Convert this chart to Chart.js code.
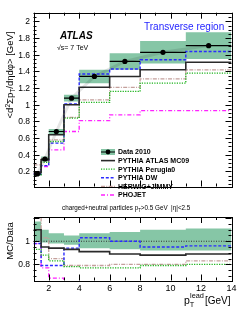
<!DOCTYPE html>
<html>
<head>
<meta charset="utf-8">
<script src="https://cdn.jsdelivr.net/npm/chart.js@4.4.1/dist/chart.umd.min.js"></script>
<style>
  html, body { margin: 0; padding: 0; background: #fff; }
  #wrap { position: relative; width: 240px; height: 311px; overflow: hidden; }
  .panel { position: absolute; left: 0; width: 240px; }
</style>
</head>
<body>
<div id="wrap">
  <div class="panel" style="top:0;height:222px"><canvas id="topChart"></canvas></div>
  <div class="panel" style="top:212px;height:99px"><canvas id="ratioChart"></canvas></div>
</div>
<script>
// bins in leading track pT [GeV]
const binEdges = [1, 1.5, 2, 3, 4, 6, 8, 11, 14];

// top panel: <d2 sum pT / deta dphi> [GeV]
const data2010   = [0.17, 0.35, 0.68, 1.08, 1.34, 1.52, 1.63, 1.71];
const data2010Sys = [0.02, 0.03, 0.03, 0.04, 0.08, 0.10, 0.135, 0.16];
const pythiaMC09 = [0.19, 0.34, 0.64, 1.00, 1.21, 1.34, 1.42, 1.51];
const perugia0   = [0.16, 0.31, 0.56, 0.84, 1.03, 1.16, 1.26, 1.38];
const pythiaDW   = [0.17, 0.27, 0.54, 1.01, 1.37, 1.43, 1.54, 1.64];
const herwig     = [0.28, 0.36, 0.58, 0.85, 1.06, 1.21, 1.31, 1.42];
const phojet     = [0.17, 0.26, 0.46, 0.68, 0.81, 0.88, 0.93, 0.93];

// bottom panel: MC/Data
const bandLow      = [1.00, 0.99, 0.98, 0.97, 0.94, 0.93, 0.92, 0.92];
const bandHigh     = [1.17, 1.10, 1.07, 1.05, 1.07, 1.08, 1.10, 1.11];
const ratioMC09    = [1.10, 0.95, 0.94, 0.93, 0.91, 0.89, 0.88, 0.89];
const ratioPerugia = [0.93, 0.88, 0.83, 0.78, 0.77, 0.77, 0.79, 0.80];
const ratioDW      = [0.98, 0.79, 0.79, 0.94, 1.03, 1.00, 0.95, 0.96];
const ratioHerwig  = [1.60, 1.03, 0.85, 0.79, 0.79, 0.80, 0.80, 0.83];
const ratioPhojet  = [0.98, 0.77, 0.68, 0.63, 0.60, 0.58, 0.57, 0.54];

const yTicksTop = [0.2, 0.4, 0.6, 0.8, 1, 1.2, 1.4, 1.6, 1.8, 2];
const yTicksRatio = [0.8, 1];
const xTicks = [2, 4, 6, 8, 10, 12, 14];

const FONT = "'Liberation Sans', Arial, sans-serif";
const GREEN_BAND = '#86c6a6';
const styles = {
  mc09:    { color: '#2a2a2a', dash: [],           width: 1.6 },
  perugia: { color: '#19b219', dash: [1.2, 1.3],   width: 1.3 },
  dw:      { color: '#2b2bff', dash: [3, 1.8],     width: 1.4 },
  herwig:  { color: '#c4a09c', dash: [4, 1.3, 1, 1.3], width: 1.3 },
  phojet:  { color: '#ff22ff', dash: [4, 2, 1, 2], width: 1.3 }
};

// histogram outline from bin edges
const steps = (vals) => {
  const pts = [];
  vals.forEach((v, i) => {
    pts.push({ x: binEdges[i], y: v });
    pts.push({ x: binEdges[i + 1], y: v });
  });
  return pts;
};

const stepLine = (vals, st, order) => ({
  data: steps(vals),
  borderColor: st.color,
  borderDash: st.dash,
  borderWidth: st.width,
  pointRadius: 0,
  fill: false,
  order: order
});

const bandPair = (low, high) => [
  { data: steps(high), borderWidth: 0, pointRadius: 0, backgroundColor: GREEN_BAND, fill: '+1', order: 20 },
  { data: steps(low), borderWidth: 0, pointRadius: 0, fill: false, order: 21 }
];

// ROOT-like inner ticks, frame and y tick labels
const frameTicks = (opts) => ({
  id: 'frameTicks',
  afterDatasetsDraw(chart) {
    const { ctx, chartArea: a, scales } = chart;
    const xs = scales.x, ys = scales.y;
    ctx.save();
    ctx.strokeStyle = '#000';
    ctx.lineWidth = 1;
    ctx.beginPath();
    for (let v = 1; v <= 14; v += 1) {
      const px = Math.round(xs.getPixelForValue(v)) + 0.5;
      const len = v % 2 === 0 ? 6 : 3;
      ctx.moveTo(px, a.bottom); ctx.lineTo(px, a.bottom - len);
      ctx.moveTo(px, a.top); ctx.lineTo(px, a.top + len);
    }
    for (let k = Math.ceil(ys.min / opts.minor); k * opts.minor <= ys.max; k++) {
      const v = k * opts.minor;
      const py = Math.round(ys.getPixelForValue(v)) + 0.5;
      const major = Math.abs(v / opts.major - Math.round(v / opts.major)) < 1e-6;
      const len = major ? 6 : 3;
      ctx.moveTo(a.left, py); ctx.lineTo(a.left + len, py);
      ctx.moveTo(a.right, py); ctx.lineTo(a.right - len, py);
    }
    ctx.stroke();
    ctx.strokeRect(Math.round(a.left) + 0.5, Math.round(a.top) + 0.5,
      Math.round(a.right - a.left), Math.round(a.bottom - a.top));

    ctx.fillStyle = '#000';
    ctx.font = `8.5px ${FONT}`;
    ctx.textAlign = 'right';
    ctx.textBaseline = 'middle';
    opts.yLabels.forEach(v => {
      ctx.fillText(String(v), a.left - 3.5, ys.getPixelForValue(v) + 0.5);
    });
    ctx.restore();
    if (opts.extra) opts.extra(chart);
  }
});

// draws a row of text pieces (sub/superscripts)
const richText = (ctx, x, y, parts, size, weight) => {
  let cx = x;
  parts.forEach(p => {
    const s = p.small ? size * 0.7 : size;
    ctx.font = `${weight || ''} ${s}px ${FONT}`;
    ctx.fillText(p.t, cx, y + (p.dy || 0));
    cx += ctx.measureText(p.t).width;
  });
  return cx - x;
};
const richWidth = (ctx, parts, size, weight) => {
  let w = 0;
  parts.forEach(p => {
    const s = p.small ? size * 0.7 : size;
    ctx.font = `${weight || ''} ${s}px ${FONT}`;
    w += ctx.measureText(p.t).width;
  });
  return w;
};

const drawTopText = (chart) => {
  const ctx = chart.ctx;
  ctx.save();
  ctx.fillStyle = '#000';
  ctx.textBaseline = 'alphabetic';

  // y title, rotated
  const yTitle = [{ t: '<d' }, { t: '2', small: true, dy: -3.5 }, { t: '\u03A3p' },
    { t: 'T', small: true, dy: 2 }, { t: '/d\u03B7d\u03C6> [GeV]' }];
  ctx.save();
  ctx.translate(13, 75);
  ctx.rotate(-Math.PI / 2);
  const w = richWidth(ctx, yTitle, 9.5);
  richText(ctx, -w / 2, 0, yTitle, 9.5);
  ctx.restore();

  ctx.font = `italic bold 10px ${FONT}`;
  ctx.fillText('ATLAS', 60, 39);
  ctx.font = `7px ${FONT}`;
  ctx.fillText('\u221As= 7 TeV', 57, 50);

  ctx.fillStyle = '#1f1fff';
  ctx.font = `10px ${FONT}`;
  ctx.fillText('Transverse region', 144, 29.5);

  // legend
  const entries = [
    { label: 'Data 2010', data: true },
    { label: 'PYTHIA ATLAS MC09', st: styles.mc09 },
    { label: 'PYTHIA Perugia0', st: styles.perugia },
    { label: 'PYTHIA DW', st: styles.dw },
    { label: 'HERWIG+JIMMY', st: styles.herwig },
    { label: 'PHOJET', st: styles.phojet }
  ];
  entries.forEach((e, i) => {
    const y = 152 + i * 8.6;
    if (e.data) {
      ctx.fillStyle = GREEN_BAND;
      ctx.fillRect(101, y - 3, 14, 6);
      ctx.strokeStyle = '#000';
      ctx.lineWidth = 1;
      ctx.setLineDash([]);
      ctx.beginPath(); ctx.moveTo(101, y); ctx.lineTo(115, y); ctx.stroke();
      ctx.fillStyle = '#000';
      ctx.beginPath(); ctx.arc(108, y, 2.4, 0, Math.PI * 2); ctx.fill();
    } else {
      ctx.strokeStyle = e.st.color;
      ctx.lineWidth = e.st.width;
      ctx.setLineDash(e.st.dash);
      ctx.beginPath(); ctx.moveTo(101, y); ctx.lineTo(115, y); ctx.stroke();
    }
    ctx.setLineDash([]);
    ctx.fillStyle = '#000';
    ctx.font = `bold 7px ${FONT}`;
    ctx.textBaseline = 'middle';
    ctx.fillText(e.label, 118, y + 0.5);
    ctx.textBaseline = 'alphabetic';
  });

  ctx.fillStyle = '#000';
  richText(ctx, 62, 210, [{ t: 'charged+neutral particles p' }, { t: 'T', small: true, dy: 1.5 },
    { t: '>0.5 GeV  |\u03B7|<2.5' }], 6.3);
  ctx.restore();
};

const drawRatioText = (chart) => {
  const ctx = chart.ctx;
  ctx.save();
  ctx.fillStyle = '#000';
  ctx.save();
  ctx.translate(13, 29);
  ctx.rotate(-Math.PI / 2);
  ctx.font = `9.5px ${FONT}`;
  const w = ctx.measureText('MC/Data').width;
  ctx.fillText('MC/Data', -w / 2, 0);
  ctx.restore();
  richText(ctx, 184, 92, [{ t: 'p' }, { t: 'T', small: true, dy: 2.5 }], 10.5);
  richText(ctx, 190, 86, [{ t: 'lead', small: true }], 10.5);
  ctx.font = `10px ${FONT}`;
  ctx.fillText('[GeV]', 205, 92);
  ctx.restore();
};

const baseX = (showLabels) => ({
  type: 'linear', min: 1, max: 14,
  display: showLabels,
  grid: { display: false, drawTicks: false },
  border: { display: false },
  afterBuildTicks: (s) => { s.ticks = xTicks.map(v => ({ value: v })); },
  afterFit: (s) => { s.height = 30.5; },
  ticks: { color: '#000', font: { family: FONT, size: 9 }, padding: 3, maxRotation: 0,
    autoSkip: false, callback: (v) => String(v) }
});

const baseY = (min, max) => ({
  type: 'linear', min: min, max: max,
  grid: { display: false, drawTicks: false },
  border: { display: false },
  afterFit: (s) => { s.width = 33.5; },
  ticks: { display: false }
});

const commonOpts = {
  responsive: true,
  maintainAspectRatio: false,
  animation: false,
  events: [],
  plugins: { legend: { display: false }, tooltip: { enabled: false } }
};

// data markers with horizontal bin-width bars
const dataBars = [];
data2010.forEach((v, i) => {
  dataBars.push({ x: binEdges[i], y: v }, { x: binEdges[i + 1], y: v },
    { x: binEdges[i + 1], y: null });
});
const dataPts = data2010.map((v, i) => ({ x: (binEdges[i] + binEdges[i + 1]) / 2, y: v }));

new Chart(document.getElementById('topChart'), {
  type: 'scatter',
  data: {
    datasets: [
      ...bandPair(data2010.map((v, i) => v - data2010Sys[i]), data2010.map((v, i) => v + data2010Sys[i])),
      stepLine(phojet, styles.phojet, 6),
      stepLine(herwig, styles.herwig, 5),
      stepLine(pythiaDW, styles.dw, 4),
      stepLine(perugia0, styles.perugia, 3),
      stepLine(pythiaMC09, styles.mc09, 2),
      { data: dataBars, showLine: true, spanGaps: false, borderColor: '#000', borderWidth: 1.2, pointRadius: 0, order: 1 },
      { data: dataPts, pointRadius: 2.6, pointBackgroundColor: '#000', pointBorderWidth: 0, order: 0 }
    ]
  },
  options: {
    ...commonOpts,
    datasets: { scatter: { showLine: true } },
    layout: { padding: { top: 12.7, right: 8.5, bottom: 5, left: 0 } },
    scales: { x: baseX(false), y: baseY(0.02, 2.105) }
  },
  plugins: [frameTicks({ minor: 0.05, major: 0.2, yLabels: yTicksTop, extra: drawTopText })]
});

new Chart(document.getElementById('ratioChart'), {
  type: 'scatter',
  data: {
    datasets: [
      ...bandPair(bandLow, bandHigh),
      { data: [{ x: 1, y: 1 }, { x: 14, y: 1 }], borderColor: '#333', borderDash: [1, 1.5], borderWidth: 1, pointRadius: 0, order: 7 },
      stepLine(ratioPhojet, styles.phojet, 6),
      stepLine(ratioHerwig, styles.herwig, 5),
      stepLine(ratioDW, styles.dw, 4),
      stepLine(ratioPerugia, styles.perugia, 3),
      stepLine(ratioMC09, styles.mc09, 2)
    ]
  },
  options: {
    ...commonOpts,
    datasets: { scatter: { showLine: true } },
    layout: { padding: { top: 5, right: 8.5, bottom: 0, left: 0 } },
    scales: { x: baseX(true), y: baseY(0.66, 1.21) }
  },
  plugins: [frameTicks({ minor: 0.05, major: 0.2, yLabels: yTicksRatio, extra: drawRatioText })]
});
</script>
</body>
</html>
